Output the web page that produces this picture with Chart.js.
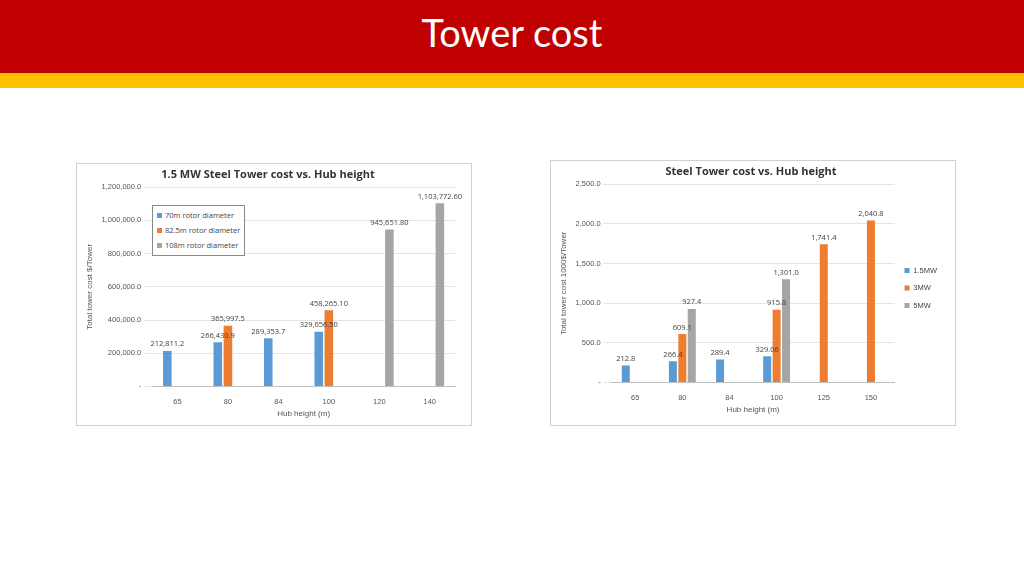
<!DOCTYPE html>
<html><head><meta charset="utf-8">
<script src="https://cdn.jsdelivr.net/npm/chart.js@4"></script>
<style>
body{margin:0;width:1024px;height:576px;background:#fff;font-family:"Open Sans",sans-serif;position:relative;overflow:hidden}
#hdr{position:absolute;left:0;top:0;width:1024px;height:73px;background:#c00000;color:#fff;font-size:38px;text-align:center;line-height:64px;font-family:Lato,"Open Sans",sans-serif}
#bar{position:absolute;left:0;top:73px;width:1024px;height:15px;background:#ffc000}
.box{position:absolute;border:1px solid #d0d0d0;background:#fff}
#leg1{position:absolute;left:152px;top:205px;border:1px solid #888;padding:2px 4px;font-size:7.5px;color:#444;background:#fff;line-height:15px}
#leg1 span{display:inline-block;width:5px;height:5px;margin-right:3px}
</style></head><body>
<div id="hdr">Tower cost</div><div id="bar"></div>
<div class="box" style="left:76px;top:163px;width:394px;height:261px"><canvas id="c1" width="394" height="261"></canvas></div>
<div class="box" style="left:550px;top:160px;width:404px;height:264px"><canvas id="c2" width="404" height="264"></canvas></div>
<div id="leg1"><div><span style="background:#5B9BD5"></span>70m rotor diameter</div><div><span style="background:#ED7D31"></span>82.5m rotor diameter</div><div><span style="background:#A5A5A5"></span>108m rotor diameter</div></div>
<script>
// left chart data
const hubLeft = ['65', '80', '84', '100', '120', '140'];
const rotor70 = [212811.2, 266430.9, 289353.7, 329056.5, null, null];
const rotor70Labels = ['212,811.2', '266,430.9', '289,353.7', '329,056.50', '', ''];
const rotor825 = [null, 365997.5, null, 458265.1, null, null];
const rotor825Labels = ['', '365,997.5', '', '458,265.10', '', ''];
const rotor108 = [null, null, null, null, 945651.8, 1103772.6];
const rotor108Labels = ['', '', '', '', '945,651.80', '1,103,772.60'];

// right chart data
const hubRight = ['65', '80', '84', '100', '125', '150'];
const mw15 = [212.8, 266.4, 289.4, 329.06, null, null];
const mw15Labels = ['212.8', '266.4', '289.4', '329.06', '', ''];
const mw3 = [null, 609.1, null, 915.8, 1741.4, 2040.8];
const mw3Labels = ['', '609.1', '', '915.8', '1,741.4', '2,040.8'];
const mw5 = [null, 927.4, null, 1301.0, null, null];
const mw5Labels = ['', '927.4', '', '1,301.0', '', ''];

const BLUE = '#5B9BD5', ORANGE = '#ED7D31', GRAY = '#A5A5A5';

// draws value labels above bars
const valueLabels = {
  id: 'valueLabels',
  afterDatasetsDraw(chart) {
    const ctx = chart.ctx;
    ctx.save();
    ctx.font = '7.5px "Open Sans"';
    ctx.fillStyle = '#404040';
    ctx.textAlign = 'center';
    ctx.textBaseline = 'bottom';
    chart.data.datasets.forEach((ds, i) => {
      chart.getDatasetMeta(i).data.forEach((bar, j) => {
        if (ds.data[j] == null) return;
        ctx.fillText(ds.labels[j], bar.x, bar.y - 3);
      });
    });
    ctx.restore();
  }
};

function makeChart(id, cats, sets, title, yTitle, max, step, legend, pad) {
  new Chart(document.getElementById(id), {
    type: 'bar',
    data: {
      labels: cats,
      datasets: sets.map(s => ({ label: s[0], data: s[1], labels: s[2], backgroundColor: s[3], categoryPercentage: 0.6, barPercentage: 0.85 }))
    },
    options: {
      responsive: false,
      animation: false,
      layout: { padding: pad },
      plugins: {
        title: { display: true, text: title, color: '#333', font: { size: 11, family: 'Open Sans' }, padding: { top: 4, bottom: 6 } },
        legend: legend ? { display: true, position: 'right', labels: { boxWidth: 5, boxHeight: 5, font: { size: 7.5 }, color: '#444' } } : { display: false },
        tooltip: { enabled: false }
      },
      scales: {
        x: {
          grid: { display: false },
          border: { color: '#bfbfbf' },
          ticks: { font: { size: 7.5 }, color: '#555' },
          title: { display: true, text: 'Hub height (m)', font: { size: 8 }, color: '#555', padding: 0 }
        },
        y: {
          min: 0, max: max,
          ticks: { stepSize: step, font: { size: 7.5 }, color: '#555',
            callback: v => v === 0 ? '-' : v.toLocaleString('en-US', { minimumFractionDigits: 1, maximumFractionDigits: 1 }) },
          grid: { color: '#e4e4e4' },
          border: { display: false },
          title: { display: true, text: yTitle, font: { size: 8 }, color: '#555' }
        }
      }
    },
    plugins: [valueLabels]
  });
}

makeChart('c1', hubLeft, [
  ['70m rotor diameter', rotor70, rotor70Labels, BLUE],
  ['82.5m rotor diameter', rotor825, rotor825Labels, ORANGE],
  ['108m rotor diameter', rotor108, rotor108Labels, GRAY]
], '1.5 MW Steel Tower cost vs. Hub height', 'Total tower cost $/Tower', 1200000, 200000, false, { left: 4, right: 16, bottom: 6 });

makeChart('c2', hubRight, [
  ['1.5MW', mw15, mw15Labels, BLUE],
  ['3MW', mw3, mw3Labels, ORANGE],
  ['5MW', mw5, mw5Labels, GRAY]
], 'Steel Tower cost vs. Hub height', 'Total tower cost 1000$/Tower', 2500, 500, true, { left: 4, right: 8, bottom: 10 });
</script>
</body></html>
